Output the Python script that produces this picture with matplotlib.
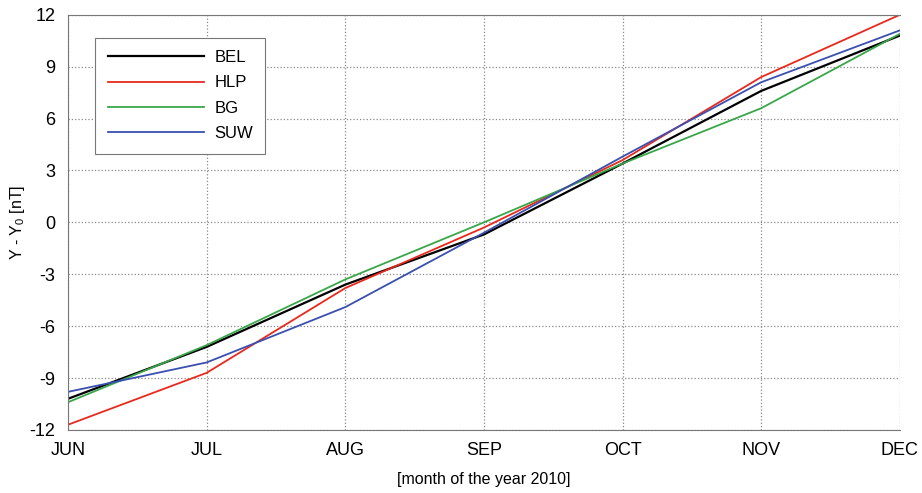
import numpy as np
from matplotlib import pyplot as plt

plt.rcParams['font.family'] = ['Liberation Sans', 'DejaVu Sans']
plt.rcParams['mathtext.default'] = 'regular'
plt.rcParams['axes.unicode_minus'] = False

months = ['JUN', 'JUL', 'AUG', 'SEP', 'OCT', 'NOV', 'DEC']
bel = [-10.2, -7.2, -3.6, -0.7, 3.4, 7.6, 10.8]
hlp = [-11.7, -8.7, -3.8, -0.3, 3.6, 8.4, 12.0]
bg = [-10.4, -7.1, -3.3, 0.0, 3.4, 6.6, 10.9]
suw = [-9.8, -8.1, -4.9, -0.6, 3.8, 8.1, 11.1]
yticks = [-12, -9, -6, -3, 0, 3, 6, 9, 12]

fig = plt.figure(figsize=(9.22, 4.93), dpi=100)
ax = fig.add_axes([0.0738, 0.128, 0.9022, 0.842])

x = np.arange(len(months))
ax.plot(x, bel, color='black', lw=1.6, label='BEL')
ax.plot(x, hlp, color='#e8291c', lw=1.3, label='HLP')
ax.plot(x, bg, color='#3aa64a', lw=1.3, label='BG')
ax.plot(x, suw, color='#3a4fb0', lw=1.3, label='SUW')

ax.set_xlim(0, len(months) - 1)
ax.set_ylim(-12, 12)
ax.set_xticks(x)
ax.set_xticklabels(months)
ax.set_yticks(yticks)
ax.grid(True, color='#888888', ls=':', lw=0.9)
ax.tick_params(labelsize=13, length=0, pad=9)
ax.spines['right'].set_visible(False)
for s in ['left', 'bottom', 'top']:
    ax.spines[s].set_color('#777777')

ax.set_xlabel('[month of the year 2010]', fontsize=11.5, labelpad=9)
ax.set_ylabel('Y - Y$_0$ [nT]', fontsize=11.5, labelpad=2)

leg = ax.legend(loc='upper left', bbox_to_anchor=(0.0325, 0.945), fontsize=12,
                fancybox=False, edgecolor='#777777', handlelength=5.8,
                handletextpad=0.6, labelspacing=0.62, borderpad=0.75,
                borderaxespad=0, framealpha=1)
leg.get_frame().set_linewidth(0.8)

fig.savefig('out.png', dpi=100)
